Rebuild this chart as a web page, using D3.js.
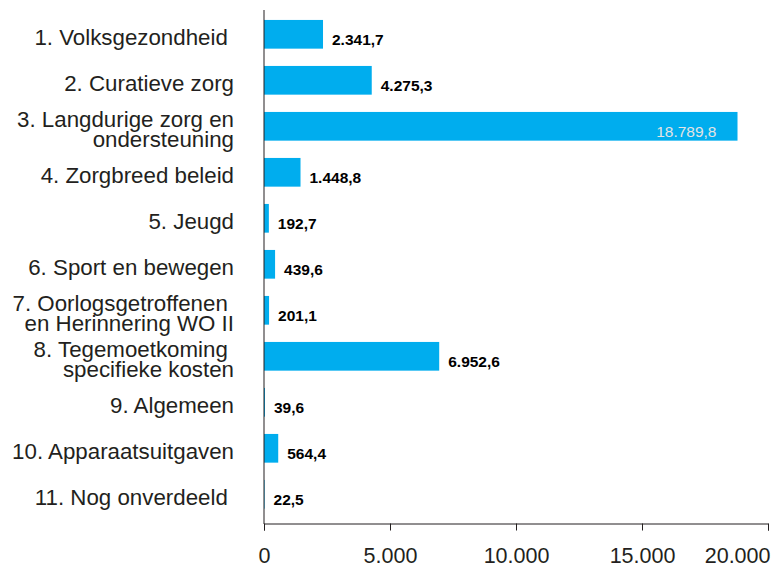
<!DOCTYPE html>
<html>
<head>
  <meta charset="utf-8">
  <script src="https://d3js.org/d3.v7.min.js"></script>
  <style>
    body { margin: 0; background: #fff; }
    svg text { font-family: "Liberation Sans", Arial, sans-serif; }
  </style>
</head>
<body>
<svg id="chart" width="774" height="565"></svg>
<script>
// labels per row, split into lines as in the original
const categories = [
  ["1. Volksgezondheid "],
  ["2. Curatieve zorg"],
  ["3. Langdurige zorg en", "ondersteuning"],
  ["4. Zorgbreed beleid"],
  ["5. Jeugd"],
  ["6. Sport en bewegen"],
  ["7. Oorlogsgetroffenen ", "en Herinnering WO II"],
  ["8. Tegemoetkoming ", "specifieke kosten"],
  ["9. Algemeen"],
  ["10. Apparaatsuitgaven"],
  ["11. Nog onverdeeld "]
];
const values = [2341.7, 4275.3, 18789.8, 1448.8, 192.7, 439.6, 201.1, 6952.6, 39.6, 564.4, 22.5];
const tickValues = [0, 5000, 10000, 15000, 20000];

const ink = "#231f20";
const barColor = "#00adee";

const svg = d3.select("#chart");

const x = d3.scaleLinear().domain([0, 20000]).range([264, 768]);
const y = d3.scaleBand()
    .domain(d3.range(categories.length))
    .range([11.3, 517.3])
    .paddingInner(0.376)
    .paddingOuter(0.188);

// dutch number format: 2.341,7
const nl = d3.formatLocale({decimal: ",", thousands: ".", grouping: [3], currency: ["€", ""]});
const fmtVal = nl.format(",.1f");
const fmtTick = nl.format(",.0f");

// bars
svg.append("g").selectAll("rect")
    .data(values)
    .join("rect")
    .attr("x", x(0))
    .attr("y", (d, i) => y(i))
    .attr("width", d => x(d) - x(0))
    .attr("height", y.bandwidth())
    .attr("fill", barColor);

// value labels (the long bar gets its label inside)
svg.append("g").selectAll("text")
    .data(values)
    .join("text")
    .attr("x", d => d > 15000 ? x(d) - 21 : x(d) + 9)
    .attr("y", (d, i) => y(i) + y.bandwidth() / 2 + 5)
    .attr("dy", "0.35em")
    .attr("text-anchor", d => d > 15000 ? "end" : "start")
    .attr("font-size", 15.5)
    .attr("font-weight", d => d > 15000 ? "normal" : "bold")
    .attr("fill", d => d > 15000 ? "#e4e4e4" : "#000")
    .text(d => fmtVal(d));

// category labels
const lab = svg.append("g").selectAll("text")
    .data(categories)
    .join("text")
    .attr("text-anchor", "end")
    .attr("font-size", 22.3)
    .attr("fill", ink)
    .style("white-space", "pre")
    .attr("transform", (d, i) => `translate(234,${y(i) + y.bandwidth() / 2 + 3})`);

lab.selectAll("tspan")
    .data(d => d.map((t, k) => ({t, k, n: d.length})))
    .join("tspan")
    .attr("x", 0)
    .attr("y", d => (d.k - (d.n - 1) / 2) * 19.5)
    .attr("dy", "0.35em")
    .text(d => d.t);

// y axis line
svg.append("line")
    .attr("x1", x(0)).attr("x2", x(0))
    .attr("y1", 10).attr("y2", 524)
    .attr("stroke", ink).attr("stroke-width", 1);

// x axis
const xAxis = svg.append("g")
    .attr("transform", "translate(0,523.5)")
    .call(d3.axisBottom(x).tickValues(tickValues).tickSize(7).tickPadding(17).tickFormat(fmtTick));
xAxis.select(".domain").attr("stroke", ink);
xAxis.selectAll(".tick line").attr("stroke", ink);
xAxis.selectAll(".tick text")
    .attr("font-size", 21.5)
    .attr("font-family", "Liberation Sans, Arial, sans-serif")
    .attr("fill", ink);
// last label sits flush with the end of the axis
xAxis.selectAll(".tick text")
    .filter(d => d === 20000)
    .attr("text-anchor", "end")
    .attr("x", 2);
</script>
</body>
</html>
